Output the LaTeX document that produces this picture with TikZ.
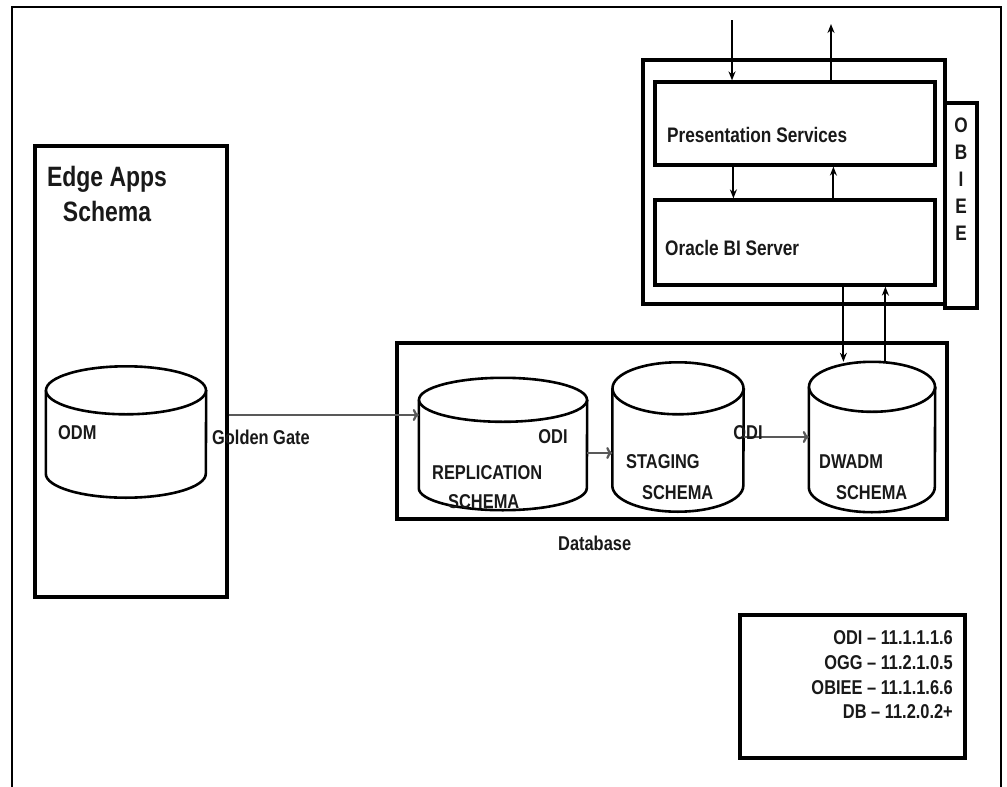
\documentclass[tikz,border=0pt]{standalone}
\usepackage{fontspec}
\setmainfont[FakeStretch=0.82]{Liberation Sans}
\usetikzlibrary{shapes.geometric, arrows.meta, calc, positioning, fit}

% cylinder outline round a named node: name, x radius, y radius
\newcommand{\dbcyl}[3]{%
	\draw[cylline] ($(#1.north west)+(0,#3)$) -- ($(#1.south west)-(0,#3)$)
		arc[start angle=180, end angle=0, x radius=#2, y radius=#3]
		-- ($(#1.north east)+(0,#3)$);
	\draw[cylline] ($(#1.north)+(0,#3)$) ellipse [x radius=#2, y radius=#3];}

\begin{document}
\begin{tikzpicture}[x=1pt, y=-1pt, arrow/.style = {line width=1.9pt,-{Stealth[length=9pt,width=7pt]}}]
	\tikzset{box/.style={draw,rectangle,inner sep=0pt,line width=3.2pt}}
	\tikzset{db/.style={rectangle,inner sep=0pt}}
	\tikzset{cylline/.style={line width=2.6pt,fill=white}}
	\tikzset{lbl/.style={font=\fontsize{20}{24}\selectfont\bfseries,inner sep=0pt,text=black!90}}
	\tikzset{flow/.style={line width=2.2pt,draw=black!65,-{To[length=6pt,width=12pt]}}}
	\useasboundingbox (0,0) rectangle (1007,787);

	% frame
	\draw[line width=1.8pt] (12,787) -- (12,7) -- (1001,7) -- (1001,787);

	% Edge Apps
	\node[fit={(35,146) (227,597)}, box] (edge) {};
	\node[lbl, font=\fontsize{28}{35}\selectfont\bfseries, align=center] (edgelbl) at (107,194) {Edge Apps\\Schema};
	\node[db, minimum width=160pt, minimum height=131pt] (odm) at (126,432) {};
	\dbcyl{odm}{80}{24}
	\node[lbl, anchor=west] (odmlbl) at (58,433) {ODM};

	% OBIEE
	\node[fit={(945,103) (977,308)}, box] (side) {};
	\node[lbl, font=\fontsize{21}{27}\selectfont\bfseries, align=center, anchor=north] (sidelbl) at (961,118) {O\\B\\I\\E\\E};
	\node[fit={(643,60) (945,304)}, box, fill=white] (obiee) {};
	\node[fit={(655,82) (935,165)}, box] (pres) {};
	\node[fit={(655,200) (935,285)}, box] (bi) {};
	\node[lbl, font=\fontsize{21}{25}\selectfont\bfseries, anchor=west] (preslbl) at (667,135) {Presentation Services};
	\node[lbl, font=\fontsize{21}{25}\selectfont\bfseries, anchor=west] (bilbl) at (665,248) {Oracle BI Server};

	\coordinate (psin) at (732,20);
	\coordinate (psout) at (831,24);
	\draw[arrow] (psin) -- (psin |- pres.north);
	\draw[arrow] (psout |- pres.north) -- (psout);
	\draw[arrow] ([xshift=80pt]pres.south west) -- ([xshift=80pt]bi.north west);
	\draw[arrow] ([xshift=180pt]bi.north west) -- ([xshift=180pt]pres.south west);

	% Database
	\node[fit={(397,343) (947,519)}, box] (dbbox) {};
	\node[lbl, anchor=west] (dblbl) at (558,543) {Database};
	\node[db, minimum width=168pt, minimum height=132pt] (repl) at (503,444) {};
	\node[db, minimum width=131pt, minimum height=149pt] (stag) at (678,437) {};
	\node[db, minimum width=126pt, minimum height=150pt] (dwadm) at (872,437) {};
	\dbcyl{repl}{84}{22}
	\dbcyl{stag}{65.5}{26}
	\dbcyl{dwadm}{63}{25}

	\node[lbl, anchor=west] (repl1) at (432,473) {REPLICATION};
	\node[lbl, anchor=west] (repl2) at (448,502) {SCHEMA};
	\node[lbl, anchor=west] (stag1) at (626,462) {STAGING};
	\node[lbl, anchor=west] (stag2) at (642,493) {SCHEMA};
	\node[lbl, anchor=west] (dwadm1) at (819,462) {DWADM};
	\node[lbl, anchor=west] (dwadm2) at (836,493) {SCHEMA};

	\draw[arrow] ([xshift=190pt]bi.south west) -- ([xshift=190pt]bi.south west |- dwadm.north);
	\draw[arrow] ([xshift=232pt]bi.south west |- dwadm.north) -- ([xshift=232pt]bi.south west);

	% Golden Gate and ODI
	\coordinate (ggend) at ([yshift=29pt]repl.west);
	\draw[flow] (edge.east |- ggend) -- (ggend);
	\node[lbl, anchor=west] (gglbl) at (212,437) {Golden Gate};
	\draw[flow] ([yshift=-9pt]repl.east) -- ([yshift=-9pt]repl.east -| stag.west);
	\draw[flow] (stag.east) -- (dwadm.west);
	\node[lbl] (odi1) at (553,437) {ODI};
	\node[lbl] (odi2) at (748,433) {ODI};

	% versions
	\node[fit={(740,615) (965,758)}, box] (ver) {};
	\node[lbl, font=\fontsize{20}{24.6}\selectfont\bfseries, align=right, anchor=east] (verlbl) at (953,675) {ODI -- 11.1.1.1.6\\OGG -- 11.2.1.0.5\\OBIEE -- 11.1.1.6.6\\DB -- 11.2.0.2+};
\end{tikzpicture}
\end{document}
